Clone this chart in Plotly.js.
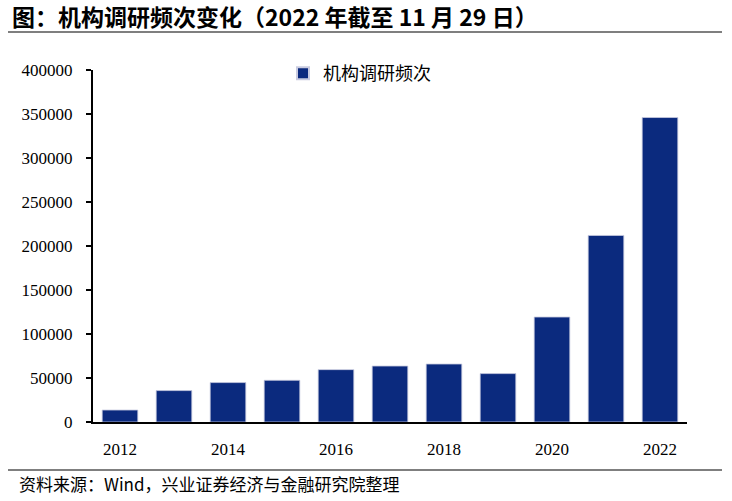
<!DOCTYPE html>
<html><head><meta charset="utf-8">
<script src="https://cdn.plot.ly/plotly-3.0.1.min.js"></script>
<style>html,body{margin:0;padding:0;background:#fff;}#chart{width:732px;height:501px;}</style>
</head><body><div id="chart"></div>
<script>
var years = [2012, 2013, 2014, 2015, 2016, 2017, 2018, 2019, 2020, 2021, 2022];
var visits = [13600, 35700, 44800, 47400, 59500, 63600, 65900, 55000, 119300, 212000, 346000];
var seriesName = '机构调研频次';
var yTicks = [0, 50000, 100000, 150000, 200000, 250000, 300000, 350000, 400000];
var xTicks = [2012, 2014, 2016, 2018, 2020, 2022];
var titleText = '图：机构调研频次变化（2022 年截至 11 月 29 日）';
var sourceText = '资料来源：Wind，兴业证券经济与金融研究院整理';

var L = 93, R = 687, T = 70, B = 422;
var W = 732, H = 501;
function px(x){ return (x - L) / (R - L); }
function py(y){ return (B - y) / (B - T); }

var trace = {
  type: 'bar', x: years, y: visits, name: seriesName,
  marker: {color: '#0b2a7e', line: {color: '#c9cbe0', width: 0.8}},
  hoverinfo: 'skip'
};

var serif = 'Liberation Serif';
var cjk = '"Noto Sans CJK SC", sans-serif';

var layout = {
  width: W, height: H,
  font: {family: serif, size: 17, color: '#000'},
  margin: {l: L, r: W - R, t: T, b: H - B, pad: 0, autoexpand: false},
  paper_bgcolor: '#fff', plot_bgcolor: '#fff',
  bargap: 0.34,
  showlegend: true,
  legend: {
    xref: 'paper', yref: 'paper',
    x: px(283), y: py(55), xanchor: 'left', yanchor: 'top',
    font: {family: cjk, size: 18, color: '#000'},
    bgcolor: 'rgba(0,0,0,0)', itemwidth: 30, itemsizing: 'constant',
    tracegroupgap: 0
  },
  title: {
    text: titleText, xref: 'container', yref: 'container',
    x: 12 / W, y: 1 - 18 / H, xanchor: 'left', yanchor: 'middle',
    font: {family: cjk, size: 23, color: '#000', weight: 'bold'}
  },
  xaxis: {
    type: 'linear', range: [2011.5, 2022.5],
    tickvals: xTicks, ticktext: xTicks.map(String),
    showline: true, linecolor: '#000', linewidth: 2,
    ticks: '', showgrid: false, zeroline: false,
    tickfont: {family: serif, size: 17, color: '#000'},
    ticklabelstandoff: 11, fixedrange: true
  },
  yaxis: {
    range: [0, 400000], tickvals: yTicks, ticktext: yTicks.map(String),
    showline: true, linecolor: '#000', linewidth: 2,
    ticks: 'outside', ticklen: 5, tickwidth: 1.5, tickcolor: '#000',
    showgrid: false, zeroline: false,
    tickfont: {family: serif, size: 17, color: '#000'},
    ticklabelstandoff: 10, fixedrange: true
  },
  shapes: [
    {type: 'line', xref: 'paper', yref: 'paper', x0: px(8), x1: px(722), y0: py(32), y1: py(32), line: {color: '#000', width: 1.2}},
    {type: 'line', xref: 'paper', yref: 'paper', x0: px(8), x1: px(722), y0: py(470), y1: py(470), line: {color: '#000', width: 1.2}}
  ],
  annotations: [
    {text: sourceText, xref: 'paper', yref: 'paper', x: px(17), y: py(483), xanchor: 'left', yanchor: 'middle', showarrow: false,
     font: {family: cjk, size: 17, color: '#000'}}
  ]
};

Plotly.newPlot('chart', [trace], layout, {displayModeBar: false, staticPlot: true});
</script>
</body></html>
